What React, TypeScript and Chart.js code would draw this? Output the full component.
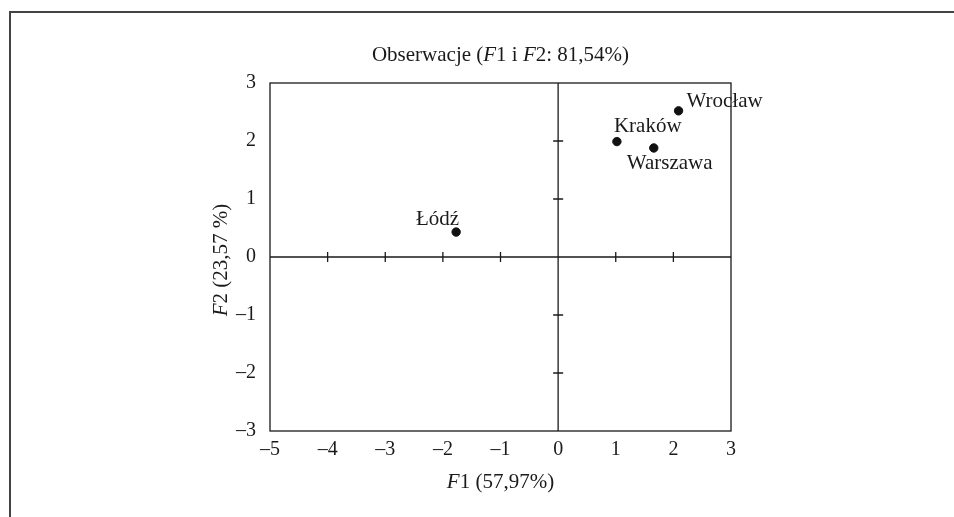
import React, { useEffect, useRef } from "react";
import { Chart, registerables } from "chart.js";

Chart.register(...registerables);

// ---- data ----
const CITY_NAMES = ["Wrocław", "Kraków", "Warszawa", "Łódź"];
const F1_VALUES = [2.09, 1.02, 1.66, -1.77];
const F2_VALUES = [2.52, 1.99, 1.88, 0.43];

const X_TICKS = [-5, -4, -3, -2, -1, 0, 1, 2, 3];
const Y_TICKS = [-3, -2, -1, 0, 1, 2, 3];
const X_TICK_LABELS = ["–5", "–4", "–3", "–2", "–1", "0", "1", "2", "3"];
const Y_TICK_LABELS = ["–3", "–2", "–1", "0", "1", "2", "3"];

// rich text segments: [text, italic]
const TITLE_PARTS: [string, boolean][] = [
  ["Obserwacje (", false],
  ["F", true],
  ["1 i ", false],
  ["F", true],
  ["2: 81,54%)", false],
];
const X_TITLE_PARTS: [string, boolean][] = [
  ["F", true],
  ["1 (57,97%)", false],
];
const Y_TITLE_PARTS: [string, boolean][] = [
  ["F", true],
  ["2 (23,57 %)", false],
];

// label placement relative to the point: [dx, dy(baseline), align]
const LABEL_OFFSETS: [number, number, CanvasTextAlign][] = [
  [8, -4, "left"],
  [-3, -10, "left"],
  [-27, 21, "left"],
  [3, -7, "right"],
];

const FONT = "'Liberation Serif', 'DejaVu Serif', serif";
const INK = "#1a1a1a";

function drawRich(
  ctx: CanvasRenderingContext2D,
  parts: [string, boolean][],
  cx: number,
  cy: number,
  size: number
) {
  const fonts = parts.map(([, it]) => `${it ? "italic " : ""}${size}px ${FONT}`);
  let total = 0;
  const widths = parts.map(([t], i) => {
    ctx.font = fonts[i];
    const w = ctx.measureText(t).width;
    total += w;
    return w;
  });
  let x = cx - total / 2;
  ctx.textBaseline = "middle";
  ctx.textAlign = "left";
  parts.forEach(([t], i) => {
    ctx.font = fonts[i];
    ctx.fillText(t, x, cy);
    x += widths[i];
  });
}

const decorPlugin = {
  id: "decor",
  beforeDatasetsDraw(chart: any) {
    const { ctx, chartArea, scales } = chart;
    const xs = scales.x;
    const ys = scales.y;
    ctx.save();
    ctx.strokeStyle = INK;
    ctx.lineWidth = 1.3;
    ctx.strokeRect(
      chartArea.left,
      chartArea.top,
      chartArea.right - chartArea.left,
      chartArea.bottom - chartArea.top
    );
    const x0 = xs.getPixelForValue(0);
    const y0 = ys.getPixelForValue(0);
    ctx.beginPath();
    ctx.moveTo(chartArea.left, y0);
    ctx.lineTo(chartArea.right, y0);
    ctx.moveTo(x0, chartArea.top);
    ctx.lineTo(x0, chartArea.bottom);
    const t = 5;
    X_TICKS.slice(1, -1).forEach((v) => {
      const px = xs.getPixelForValue(v);
      ctx.moveTo(px, y0 - t);
      ctx.lineTo(px, y0 + t);
    });
    Y_TICKS.slice(1, -1).forEach((v) => {
      const py = ys.getPixelForValue(v);
      ctx.moveTo(x0 - t, py);
      ctx.lineTo(x0 + t, py);
    });
    ctx.stroke();
    ctx.restore();
  },
  afterDatasetsDraw(chart: any) {
    const { ctx, chartArea, scales } = chart;
    const xs = scales.x;
    const ys = scales.y;
    ctx.save();
    ctx.fillStyle = INK;
    ctx.font = `21px ${FONT}`;
    ctx.textBaseline = "alphabetic";
    CITY_NAMES.forEach((name, i) => {
      const px = xs.getPixelForValue(F1_VALUES[i]);
      const py = ys.getPixelForValue(F2_VALUES[i]);
      const [dx, dy, al] = LABEL_OFFSETS[i];
      ctx.textAlign = al;
      ctx.fillText(name, px + dx, py + dy);
    });
    const cx = (chartArea.left + chartArea.right) / 2;
    const cy = (chartArea.top + chartArea.bottom) / 2;
    drawRich(ctx, TITLE_PARTS, cx, chartArea.top - 28, 21);
    drawRich(ctx, X_TITLE_PARTS, cx, chartArea.bottom + 51, 21);
    ctx.translate(chartArea.left - 49, cy + 3);
    ctx.rotate(-Math.PI / 2);
    drawRich(ctx, Y_TITLE_PARTS, 0, 0, 21);
    ctx.restore();
  },
};

export default function App() {
  const ref = useRef<HTMLCanvasElement | null>(null);

  useEffect(() => {
    if (!ref.current) return;
    const chart = new Chart(ref.current, {
      type: "scatter",
      data: {
        datasets: [
          {
            label: "Obserwacje",
            data: F1_VALUES.map((x, i) => ({ x, y: F2_VALUES[i] })),
            backgroundColor: "#111",
            borderColor: "#111",
            pointRadius: 4.2,
            pointHoverRadius: 4.2,
          },
        ],
      },
      options: {
        responsive: false,
        animation: false,
        layout: { padding: { left: 200, right: 223, top: 83, bottom: 46 } },
        plugins: {
          legend: { display: false },
          tooltip: { enabled: false },
          title: { display: false },
        },
        scales: {
          x: {
            type: "linear",
            min: -5,
            max: 3,
            grid: { display: false, drawTicks: false },
            border: { display: false },
            afterBuildTicks: (s: any) => {
              s.ticks = X_TICKS.map((v) => ({ value: v }));
            },
            afterFit: (s: any) => {
              s.height = 40;
            },
            ticks: {
              padding: 7,
              color: INK,
              font: { family: FONT, size: 20 },
              maxRotation: 0,
              autoSkip: false,
              callback: (v: any) => X_TICK_LABELS[X_TICKS.indexOf(Number(v))] ?? "",
            },
          },
          y: {
            type: "linear",
            min: -3,
            max: 3,
            grid: { display: false, drawTicks: false },
            border: { display: false },
            afterBuildTicks: (s: any) => {
              s.ticks = Y_TICKS.map((v) => ({ value: v }));
            },
            afterFit: (s: any) => {
              s.width = 70;
            },
            ticks: {
              padding: 14,
              color: INK,
              font: { family: FONT, size: 20 },
              autoSkip: false,
              callback: (v: any) => Y_TICK_LABELS[Y_TICKS.indexOf(Number(v))] ?? "",
            },
          },
        },
      },
      plugins: [decorPlugin],
    });
    return () => chart.destroy();
  }, []);

  return (
    <div
      style={{
        position: "fixed",
        left: 0,
        top: 0,
        width: 954,
        height: 517,
        background: "#fff",
        overflow: "hidden",
      }}
    >
      <div
        style={{
          position: "absolute",
          left: 9,
          top: 11,
          width: 960,
          height: 520,
          borderTop: "2px solid #444",
          borderLeft: "2px solid #444",
        }}
      />
      <canvas
        ref={ref}
        width={954}
        height={517}
        style={{ position: "absolute", left: 0, top: 0, width: 954, height: 517 }}
      />
    </div>
  );
}
